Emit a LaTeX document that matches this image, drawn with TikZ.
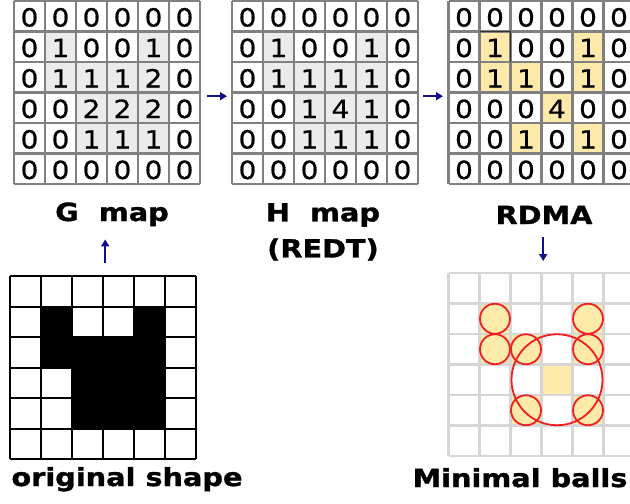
\documentclass[tikz,border=0pt]{standalone}
\usepackage{fontspec}
\usetikzlibrary{arrows.meta}
\newfontfamily\labfont[FakeStretch=1.15,FakeBold=1.2]{DejaVu Sans Bold}
\newfontfamily\digfont[FakeStretch=1.12,FakeBold=0.6]{DejaVu Sans}
\definecolor{cellgray}{HTML}{EBEBEB}
\definecolor{gridgray}{HTML}{808080}
\definecolor{ballyel}{HTML}{FDE9AA}
\definecolor{arrowblue}{HTML}{10108C}
\definecolor{lightgrid}{HTML}{D6D6D6}
\definecolor{ballred}{HTML}{F02020}
\tikzset{
  lab/.style={font=\labfont\fontsize{25}{36}\selectfont, inner sep=0pt},
  dig/.style={font=\digfont\fontsize{25}{30}\selectfont, inner sep=0pt, anchor=base},
  flow/.style={draw=arrowblue, line width=2pt, -{Triangle[length=7pt,width=8pt]}},
  ball/.style={draw=ballred, line width=1.8pt},
  gridbox/.style={inner sep=0pt, minimum width=186pt, minimum height=183pt, anchor=north west},
}
% name, x0, y0, fill colour, rows of values
\newcommand\numgrid[5]{%
  \node[gridbox] (#1) at (#2,#3) {};
  \foreach \rowlist [count=\ri from 0] in {#5} {
    \foreach \v [count=\ci from 0] in \rowlist {
      \ifnum\v>0 \fill[#4] (#2+\ci*31,#3+\ri*30.5) rectangle ++(31,30.5);\fi
    }
  }
  \foreach \i in {0,...,6} {
    \draw[gridgray, line width=2.2pt] (#2+\i*31,#3) -- ++(0,183);
    \draw[gridgray, line width=2.2pt] (#2,#3+\i*30.5) -- ++(186,0);
  }
  \foreach \rowlist [count=\ri from 0] in {#5} {
    \foreach \v [count=\ci from 0] in \rowlist {
      \node[dig] (#1-\ri-\ci) at (#2+\ci*31+15.5,#3+\ri*30.5+25.5) {\v};
    }
  }
}
\begin{document}
\begin{tikzpicture}[x=1pt,y=-1pt]
\useasboundingbox (0,0) rectangle (630,504);
\clip (0,0) rectangle (630,504);
\fill[white] (0,0) rectangle (630,504);

% top grids
\numgrid{G}{14}{1}{cellgray}{{0,0,0,0,0,0},{0,1,0,0,1,0},{0,1,1,1,2,0},{0,0,2,2,2,0},{0,0,1,1,1,0},{0,0,0,0,0,0}}
\numgrid{H}{232}{1}{cellgray}{{0,0,0,0,0,0},{0,1,0,0,1,0},{0,1,1,1,1,0},{0,0,1,4,1,0},{0,0,1,1,1,0},{0,0,0,0,0,0}}
\numgrid{R}{448.5}{1}{ballyel}{{0,0,0,0,0,0},{0,1,0,0,1,0},{0,1,1,0,1,0},{0,0,0,4,0,0},{0,0,1,0,1,0},{0,0,0,0,0,0}}
\draw[black!80, line width=1pt] (479.5,31.5) -- (510.5,31.5) -- (510.5,62);

% original shape
\node[gridbox] (O) at (10,276) {};
\foreach \ri/\ci in {1/1,1/4,2/1,2/2,2/3,2/4,3/2,3/3,3/4,4/2,4/3,4/4}
  \fill[black] (10+\ci*31,276+\ri*30.5) rectangle ++(31,30.5);
\foreach \i in {0,...,6} {
  \draw[black, line width=2pt] (10+\i*31,276) -- ++(0,183);
  \draw[black, line width=2pt] (10,276+\i*30.5) -- ++(186,0);
}

% minimal balls
\node[gridbox] (M) at (448.5,273) {};
\foreach \ri/\ci in {1/1,1/4,2/1,2/2,2/4,3/3,4/2,4/4}
  \fill[ballyel] (448.5+\ci*31,273+\ri*30.5) rectangle ++(31,30.5);
\foreach \i in {0,...,6} {
  \draw[lightgrid, line width=2.4pt] (448.5+\i*31,273) -- ++(0,183);
  \draw[lightgrid, line width=2.4pt] (448.5,273+\i*30.5) -- ++(186,0);
}
\foreach \ri/\ci in {1/1,1/4,2/1,2/2,2/4,4/2,4/4}
  \draw[ball] (448.5+\ci*31+15.5,273+\ri*30.5+15.25) circle[radius=15pt];
\draw[ball] (448.5+3*31+15.5,273+3*30.5+15.25) circle[radius=45.5pt];

% labels
\node[lab, anchor=base] (Glab) at (112,221) {G~~map};
\node[lab, anchor=north, align=center] (Hlab) at (323,203) {H~~map\\(REDT)};
\node[lab, anchor=base] (Rlab) at (544,224) {RDMA};
\node[lab, anchor=base] (Olab) at (127,486) {original shape};
\node[lab, anchor=base] (Mlab) at (520,487) {Minimal balls};

% arrows
\draw[flow, shorten <=7pt, shorten >=5pt] ([yshift=-3.5pt]G.east) -- ([yshift=-3.5pt]H.west);
\draw[flow, shorten <=5pt, shorten >=5.5pt] ([yshift=-3.5pt]H.east) -- ([yshift=-3.5pt]R.west);
\draw[flow, shorten <=13pt, shorten >=13pt] ([xshift=2pt]O.north) -- ([xshift=2pt]O.north |- Glab.south);
\draw[flow, shorten <=13pt, shorten >=12pt] ([xshift=1.5pt]M.north |- Rlab.south) -- ([xshift=1.5pt]M.north);
\end{tikzpicture}
\end{document}
